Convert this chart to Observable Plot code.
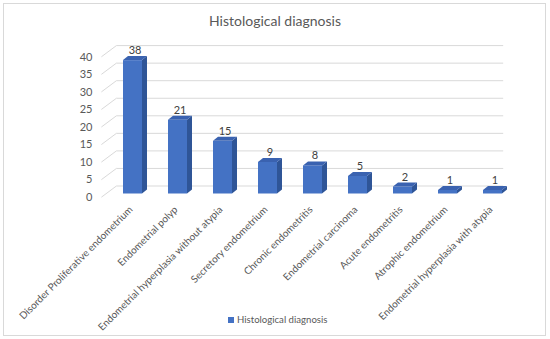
<!DOCTYPE html>
<html><head><meta charset="utf-8">
<script src="https://cdn.jsdelivr.net/npm/d3@7"></script>
<script src="https://cdn.jsdelivr.net/npm/@observablehq/plot@0.6"></script>
<style>
body{margin:0;background:#fff;}
#chart{position:relative;width:550px;height:339px;font-family:Lato, "Open Sans", sans-serif;overflow:hidden;}
#frame{position:absolute;left:3px;top:3px;width:543px;height:333px;border:1px solid #d9d9d9;box-sizing:border-box;}
#title{position:absolute;top:12px;left:0;width:550px;text-align:center;font-size:14px;color:#595959;line-height:18px;}
#plot{position:absolute;top:40px;left:0;}
#legend{position:absolute;top:313px;left:228px;font-size:9.6px;color:#595959;line-height:14px;display:flex;align-items:center;gap:3px;}
#legend .sw{width:6px;height:6px;background:#4472C4;display:inline-block;}
</style>
</head><body>
<div id="chart">
  <div id="frame"></div>
  <div id="title">Histological diagnosis</div>
  <div id="plot"></div>
  <div id="legend"><span class="sw"></span><span>Histological diagnosis</span></div>
</div>
<script>
const seriesName = "Histological diagnosis";
const categories = [
  "Disorder Proliferative endometrium",
  "Endometrial polyp",
  "Endometrial hyperplasia without atypia",
  "Secretory endometrium",
  "Chronic endometritis",
  "Endometrial carcinoma",
  "Acute endometritis",
  "Atrophic endometrium",
  "Endometrial hyperplasia with atypia"
];
const values = [38, 21, 15, 9, 8, 5, 2, 1, 1];
const yTicks = [0, 5, 10, 15, 20, 25, 30, 35, 40];

const rows = categories.map((c, i) => ({category: c, value: values[i]}));

const FRONT = "#4472C4", SIDE = "#2F5597", TOP = "#3A62B0", GRID = "#d9d9d9";
const DX = 5, DY = -4;

function wall(index, scales, values, dims) {
  const {y} = scales;
  const g = d3.create("svg:g").attr("stroke", GRID).attr("stroke-width", 1).attr("fill", "none");
  const left = dims.marginLeft;
  const right = dims.width - dims.marginRight;
  for (const t of yTicks) {
    const yy = y(t);
    g.append("line").attr("x1", left + 8).attr("y1", yy + 3.7).attr("x2", left + 23).attr("y2", yy - 7.5);
    g.append("line").attr("x1", left + 23).attr("y1", yy - 7.5).attr("x2", right - 28).attr("y2", yy - 7.5);
  }
  return g.node();
}

function depth(index, scales) {
  const {x, y} = scales;
  const bw = typeof x.bandwidth === "function" ? x.bandwidth() : x.bandwidth;
  const g = d3.create("svg:g");
  for (const d of rows) {
    const x0 = x(d.category), x1 = x0 + bw, y0 = y(0), yv = y(d.value);
    g.append("path").attr("fill", SIDE)
      .attr("d", `M${x1},${y0}L${x1 + DX},${y0 + DY}L${x1 + DX},${yv + DY}L${x1},${yv}Z`);
    g.append("path").attr("fill", TOP)
      .attr("d", `M${x0},${yv}L${x0 + DX},${yv + DY}L${x1 + DX},${yv + DY}L${x1},${yv}Z`);
  }
  return g.node();
}

const chart = Plot.plot({
  width: 550,
  height: 290,
  marginLeft: 93.4,
  marginRight: 18.8,
  marginTop: 13.1,
  marginBottom: 136.5,
  style: {fontFamily: "Lato, 'Open Sans', sans-serif", overflow: "visible", background: "transparent"},
  x: {domain: categories, padding: 0.58, axis: null},
  y: {domain: [0, 40], axis: null},
  marks: [
    wall,
    Plot.text(yTicks, {y: d => d, text: d => String(d), frameAnchor: "left", textAnchor: "end", dx: -1.5, dy: 3.5, fill: "#595959", fontSize: 11}),
    Plot.barY(rows, {x: "category", y: "value", fill: FRONT}),
    depth,
    Plot.text(rows, {x: "category", y: "value", text: d => String(d.value), dx: 2, dy: -10, fill: "#404040", fontSize: 11}),
    Plot.text(rows, {x: "category", y: 0, text: "category", rotate: -45, textAnchor: "end", dx: -2, dy: 14, fill: "#595959", fontSize: 10})
  ]
});
document.getElementById("plot").appendChild(chart);
</script>
</body></html>
